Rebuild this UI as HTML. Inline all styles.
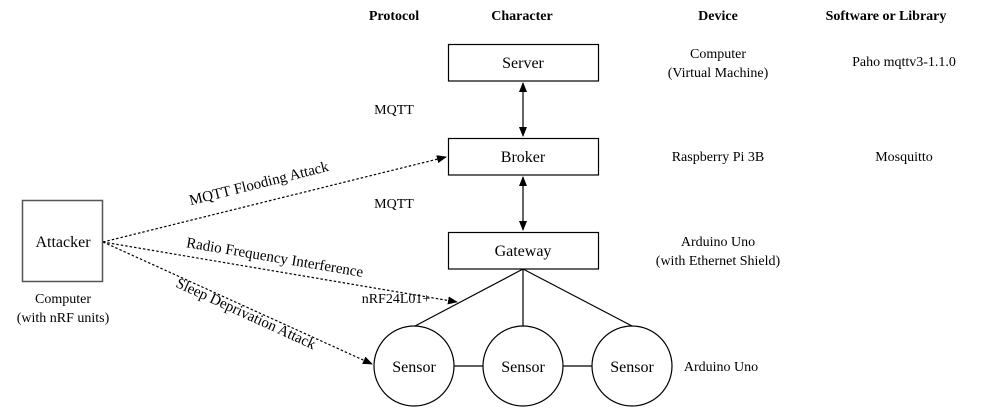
<!DOCTYPE html>
<html><head><style>body{margin:0;background:#fff}svg{display:block}text{font-family:"Liberation Serif","Times New Roman",serif}</style></head><body>
<svg width="981" height="408" viewBox="0 0 981 408" xmlns="http://www.w3.org/2000/svg" style="font-family:'Liberation Serif',serif" font-size="14" fill="#000">
<defs><marker id="a" markerWidth="10" markerHeight="8" refX="9" refY="4" orient="auto-start-reverse" markerUnits="userSpaceOnUse"><path d="M0,0 L10,4 L0,8z" fill="#000"/></marker></defs>
<g font-weight="bold" font-size="14" text-anchor="middle">
<text x="394" y="20">Protocol</text><text x="522" y="20">Character</text><text x="718" y="20">Device</text><text x="886" y="20">Software or Library</text></g>
<g fill="none" stroke="#000" stroke-width="1.2">
<rect x="448.5" y="44.5" width="150" height="36.5"/>
<rect x="448.5" y="138.5" width="150" height="36.5"/>
<rect x="448.5" y="232.5" width="150" height="36.5"/>
<rect x="22.5" y="200.5" width="80" height="81" stroke="#555" stroke-width="1.5"/>
<line x1="523" y1="83" x2="523" y2="136" marker-start="url(#a)" marker-end="url(#a)"/>
<line x1="523" y1="177" x2="523" y2="230" marker-start="url(#a)" marker-end="url(#a)"/>
<line x1="523" y1="269" x2="415" y2="326"/><line x1="523" y1="269" x2="523" y2="326"/><line x1="523" y1="269" x2="632" y2="326"/>
<line x1="454" y1="366" x2="483" y2="366"/><line x1="563" y1="366" x2="592" y2="366"/>
<circle cx="414" cy="366" r="40"/><circle cx="523" cy="366" r="40"/><circle cx="632" cy="366" r="40"/>
<g stroke-dasharray="2.5,2"><line x1="103" y1="242" x2="446" y2="157" marker-end="url(#a)"/>
<line x1="103" y1="242" x2="457" y2="302" marker-end="url(#a)"/>
<line x1="103" y1="242" x2="372" y2="364" marker-end="url(#a)"/></g>
</g>
<g text-anchor="middle" font-size="16">
<text x="523" y="68">Server</text><text x="523" y="162">Broker</text><text x="523" y="256">Gateway</text>
<text x="63" y="247">Attacker</text>
<text x="414" y="372">Sensor</text><text x="523" y="372">Sensor</text><text x="632" y="372">Sensor</text></g>
<g text-anchor="middle" font-size="14">
<text x="394" y="114">MQTT</text><text x="394" y="208">MQTT</text>
<text x="718" y="58">Computer</text><text x="718" y="77">(Virtual Machine)</text>
<text x="718" y="161">Raspberry Pi 3B</text>
<text x="718" y="246">Arduino Uno</text><text x="718" y="265">(with Ethernet Shield)</text>
<text x="904" y="66">Paho mqttv3-1.1.0</text><text x="904" y="161">Mosquitto</text>
<text x="721" y="371">Arduino Uno</text>
<text x="63" y="303">Computer</text><text x="63" y="322">(with nRF units)</text>
<text x="396" y="303">nRF24L01+</text>
</g>
<g text-anchor="middle" font-size="15">
<text transform="translate(260,188) rotate(-14)">MQTT Flooding Attack</text>
<text transform="translate(274,262) rotate(9.6)">Radio Frequency Interference</text>
<text transform="translate(244,318) rotate(24.5)">Sleep Deprivation Attack</text>
</g>
</svg>
</body></html>
